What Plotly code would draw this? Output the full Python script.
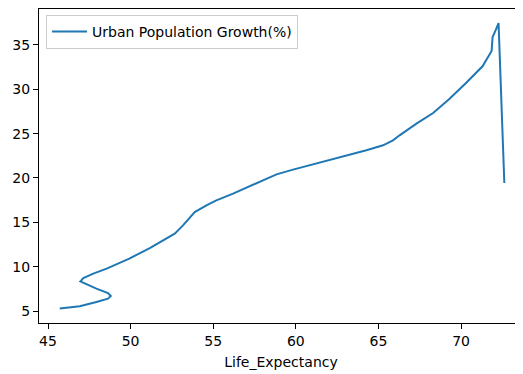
import plotly.graph_objects as go

life_expectancy = [45.71, 46.92, 47.93, 48.63, 48.80, 48.63, 47.93, 47.22, 46.96, 47.14, 47.74, 48.55,
                   49.92, 51.16, 51.96, 52.67, 53.17, 53.58, 53.88, 54.59, 55.19, 56.20, 57.21,
                   58.22, 58.83, 59.83, 61.25, 62.25, 63.26, 64.27, 65.28, 65.88, 66.28, 67.30,
                   68.31, 69.29, 70.30, 71.30, 71.85, 71.91, 72.11, 72.27, 72.62]
urban_growth = [5.28, 5.53, 6.02, 6.40, 6.70, 7.03, 7.53, 8.09, 8.35, 8.72, 9.22, 9.78,
                10.91, 12.10, 12.97, 13.73, 14.66, 15.60, 16.16, 16.92, 17.48, 18.24, 19.06,
                19.93, 20.41, 20.94, 21.62, 22.07, 22.55, 23.12, 23.68, 24.25, 24.81, 26.13,
                27.32, 28.90, 30.71, 32.59, 34.31, 35.89, 36.72, 37.47, 19.43]

series_name = "Urban Population Growth(%)"
x_title = "Life_Expectancy"
x_ticks = [45, 50, 55, 60, 65, 70]
y_ticks = [5, 10, 15, 20, 25, 30, 35]

font = dict(family="DejaVu Sans", size=14, color="#000000")

fig = go.Figure()
fig.add_trace(go.Scatter(
    x=life_expectancy, y=urban_growth, mode="lines", name=series_name,
    line=dict(color="#1f77b4", width=2),
))

# page body has an 8px margin: compensate so the axes sit where the reference has them
fig.update_layout(
    width=523, height=374,
    margin=dict(l=31, r=8, t=1, b=59),
    paper_bgcolor="white", plot_bgcolor="white",
    font=font,
    showlegend=True,
    legend=dict(
        x=0.0145, y=0.981, xanchor="left", yanchor="top",
        bgcolor="rgba(255,255,255,0.8)", bordercolor="#cccccc", borderwidth=1,
        font=font, itemwidth=35,
    ),
    xaxis=dict(
        range=[44.455, 73.75], tickvals=x_ticks, ticktext=[str(v) for v in x_ticks],
        showgrid=False, zeroline=False, showline=True, linecolor="#000000", linewidth=1.2,
        mirror=True, ticks="outside", ticklen=5, tickcolor="#000000", tickwidth=1.1,
        title=dict(text=x_title, font=font, standoff=9),
    ),
    yaxis=dict(
        range=[3.65, 39.05], tickvals=y_ticks, ticktext=[str(v) for v in y_ticks],
        showgrid=False, zeroline=False, showline=True, linecolor="#000000", linewidth=1.2,
        ticks="outside", ticklen=5, tickcolor="#000000", tickwidth=1.1,
    ),
)

fig.write_html("out.html")
